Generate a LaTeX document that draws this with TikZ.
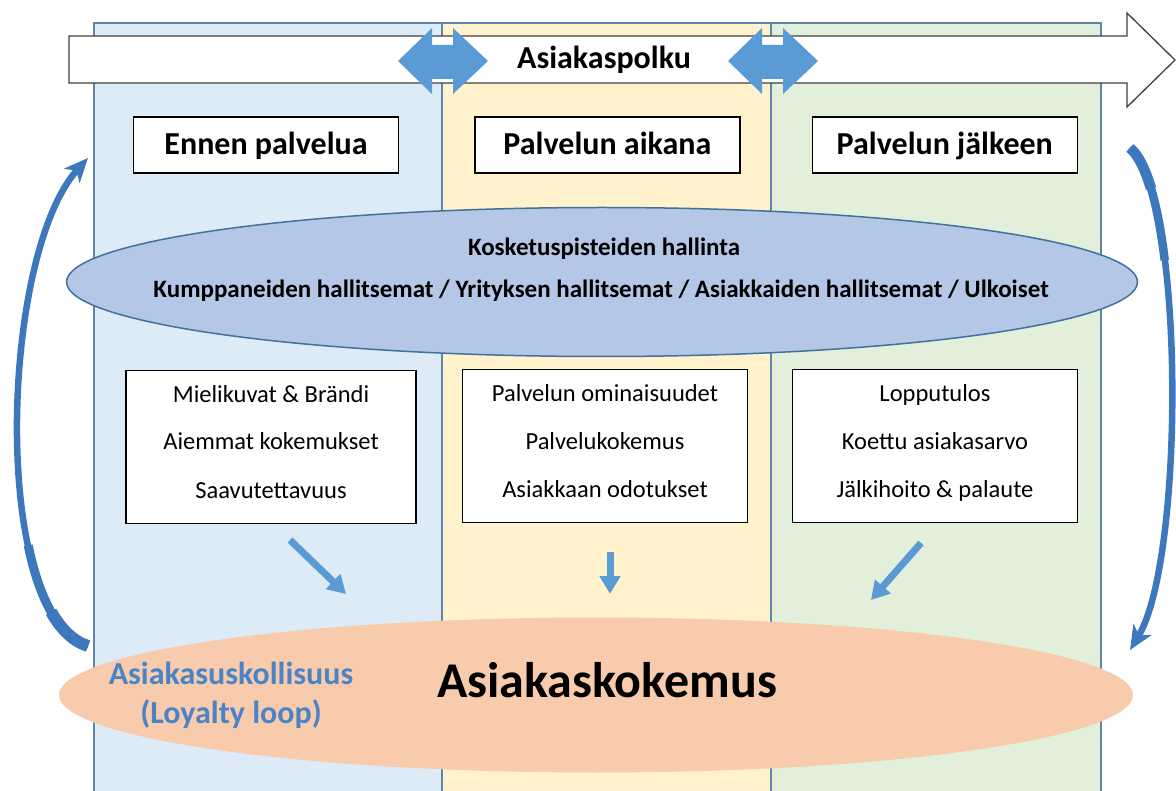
\documentclass[tikz,border=0pt]{standalone}
\usepackage{fontspec}
\setmainfont{Carlito}
\usetikzlibrary{arrows.meta,positioning,shapes.geometric,calc}
\definecolor{clBefore}{HTML}{DDEBF7}
\definecolor{clDuring}{HTML}{FFF2CC}
\definecolor{clAfter}{HTML}{E2EFDA}
\definecolor{clBorder}{HTML}{5F84AE}
\definecolor{clArrow}{HTML}{5B9BD5}
\definecolor{clLoop}{HTML}{3D78BC}
\definecolor{clLoyal}{HTML}{4A84C6}
\definecolor{clTouch}{HTML}{B4C7E7}
\definecolor{clTouchLine}{HTML}{41719C}
\definecolor{clExp}{HTML}{F8CBAD}
\tikzset{
  phase/.style={rectangle, draw=black, line width=1.4pt, fill=white, inner sep=0pt,
                minimum width=265pt, minimum height=56pt, text height=27pt, text depth=8pt,
                font=\fontsize{32}{38}\selectfont\bfseries},
  factors/.style={rectangle, draw=black, line width=1.2pt, fill=white, inner sep=0pt,
                  align=center, minimum height=153pt, text height=110pt, text depth=8pt,
                  font=\fontsize{24.5}{48}\selectfont},
  touchtext/.style={anchor=base, font=\fontsize{25}{30}\selectfont\bfseries},
  blob/.style={ellipse, inner sep=0pt},
  hint/.style={-{Triangle[length=18pt,width=20pt]}, line width=7pt, draw=clArrow},
  loyaltyarrow/.style={-{Stealth[length=24pt,width=21pt,inset=7pt]}, line width=6.5pt, draw=clLoop},
  loyaltytail/.style={draw=clLoop},
}

\begin{document}
\begin{tikzpicture}[x=1pt, y=-1pt]
  \useasboundingbox (0,0) rectangle (1176,791);
  \clip (0,0) rectangle (1176,791);
  % phase columns
  \fill[clBefore] (94,23) rectangle (442,800);
  \fill[clDuring] (442,23) rectangle (771,800);
  \fill[clAfter] (771,23) rectangle (1101,800);
  \draw[clBorder, line width=1.3pt] (94,800) -- (94,23) -- (1101,23) -- (1101,800)
    (442,23) -- (442,800) (771,23) -- (771,800);

  % customer journey
  \draw[draw=black!75, fill=white, line width=1.3pt] (69,36) -- (1127,36) -- (1127,13) -- (1175,60)
    -- (1127,107) -- (1127,83) -- (69,83) -- cycle;
  \node[font=\fontsize{32}{38}\selectfont\bfseries] (journey) at (604,60) {Asiakaspolku};
  \foreach \cx in {443,773}
    \fill[clArrow] (\cx-45,61) -- (\cx-11,28) -- (\cx-11,45) -- (\cx+10,45) -- (\cx+10,28)
      -- (\cx+45,61) -- (\cx+10,94) -- (\cx+10,79) -- (\cx-11,79) -- (\cx-11,94) -- cycle;

  \node[phase] (before) at (266,145) {Ennen palvelua};
  \node[phase, right=75pt of before] (during) {Palvelun aikana};
  \node[phase, right=71pt of during] (after) {Palvelun jälkeen};

  % touchpoints
  \node[blob, fill=clTouch, draw=clTouchLine, line width=1.5pt, minimum width=1071pt,
        minimum height=149pt] (touch) at (602,282) {};
  \node[touchtext] (touchtitle) at (604,256) {Kosketuspisteiden hallinta};
  \node[touchtext] (touchkinds) at (601,298)
    {Kumppaneiden hallitsemat / Yrityksen hallitsemat / Asiakkaiden hallitsemat / Ulkoiset};

  \node[factors, minimum width=290pt] (image) at (271,447)
    {Mielikuvat \& Brändi\\Aiemmat kokemukset\\Saavutettavuus};
  \node[factors, minimum width=285pt] (service) at (605,446)
    {Palvelun ominaisuudet\\Palvelukokemus\\Asiakkaan odotukset};
  \node[factors, minimum width=285pt] (outcome) at (935,446)
    {Lopputulos\\Koettu asiakasarvo\\Jälkihoito \& palaute};

  % customer experience
  \node[blob, fill=clExp, minimum width=1074pt, minimum height=155pt] (exp) at (596,695) {};
  \node[anchor=base, font=\fontsize{50}{60}\selectfont\bfseries] (expname) at (607,697) {Asiakaskokemus};
  \node[font=\fontsize{32}{39}\selectfont\bfseries, text=clLoyal, align=center] (loyal) at (231,695)
    {Asiakasuskollisuus\\(Loyalty loop)};

  \coordinate (hA1) at (290,540); \coordinate (hA2) at (346,594);
  \coordinate (hB1) at (610,552); \coordinate (hB2) at (610,594);
  \coordinate (hC1) at (921,543); \coordinate (hC2) at (871,600);
  \draw[hint] (hA1) -- (hA2);
  \draw[hint] (hB1) -- (hB2);
  \draw[hint] (hC1) -- (hC2);

  % loyalty loop, thicker near the tails
  \coordinate (loopA) at (88,646); \coordinate (loopB) at (88,158);
  \coordinate (loopC) at (1130,148); \coordinate (loopD) at (1130,650);
  \draw[loyaltyarrow] (loopA) .. controls (-10,615) and (0,255) .. (loopB);
  \draw[loyaltyarrow] (loopC) .. controls (1185,195) and (1185,560) .. (loopD);
  \draw[loyaltytail, line width=9pt] (loopA) .. controls (58.6,636.7) and (38.9,597.8) .. (28.2,545.3);
  \draw[loyaltytail, line width=12pt] (loopA) .. controls (73.3,641.4) and (61.0,629.3) .. (51.1,611.8);
  \draw[loyaltytail, line width=8.5pt] (loopC) .. controls (1146.5,162.1) and (1158.1,204.8) .. (1164.7,260.2);
  \draw[loyaltytail, line width=10.5pt] (loopC) .. controls (1138.3,155.1) and (1145.3,169.3) .. (1151.0,188.6);
\end{tikzpicture}
\end{document}
